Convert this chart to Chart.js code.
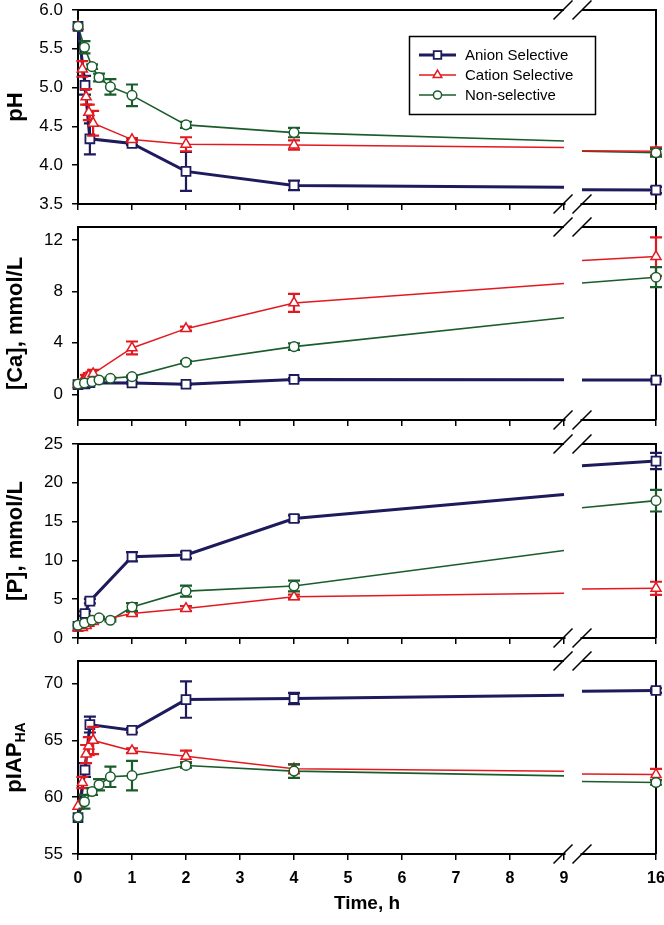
<!DOCTYPE html>
<html><head><meta charset="utf-8">
<script src="https://cdn.jsdelivr.net/npm/chart.js@4.4.1/dist/chart.umd.min.js"></script>
<style>
html,body{margin:0;padding:0;background:#fff;}
body{width:664px;height:925px;position:relative;overflow:hidden;}
canvas{position:absolute;left:0;}
</style></head><body>
<canvas id="c1"></canvas><canvas id="c2"></canvas><canvas id="c3"></canvas><canvas id="c4"></canvas>
<script>
// ---------------- DATA ----------------
const seriesNames = ['Anion Selective', 'Cation Selective', 'Non-selective'];
const timeAnion  = [0, 0.13, 0.22, 1, 2, 4, 16];
const timeCation = [0, 0.08, 0.15, 0.2, 0.28, 1, 2, 4, 16];
const timeNon    = [0, 0.12, 0.26, 0.39, 0.6, 1, 2, 4, 16];

const pHAnion     = [5.79, 5.03, 4.34, 4.28, 3.92, 3.74, 3.68];
const pHAnionErr  = [0, 0.12, 0.2, 0.02, 0.25, 0.06, 0.04];
const pHCation    = [5.79, 5.24, 4.88, 4.68, 4.54, 4.33, 4.27, 4.26, 4.18];
const pHCationErr = [0, 0.1, 0.1, 0.1, 0.16, 0.02, 0.09, 0.06, 0.05];
const pHNon       = [5.79, 5.52, 5.27, 5.13, 5.01, 4.90, 4.52, 4.42, 4.16];
const pHNonErr    = [0, 0.08, 0.03, 0.05, 0.1, 0.14, 0.04, 0.06, 0.05];

const caAnion     = [0.75, 0.8, 0.9, 0.88, 0.78, 1.15, 1.1];
const caAnionErr  = [0, 0.05, 0.05, 0.05, 0.05, 0.1, 0.1];
const caCation    = [0.75, 1.0, 1.3, 1.45, 1.6, 3.6, 5.1, 7.1, 10.7];
const caCationErr = [0, 0.1, 0.2, 0.2, 0.3, 0.5, 0.15, 0.7, 1.5];
const caNon       = [0.8, 0.88, 0.98, 1.11, 1.24, 1.37, 2.49, 3.7, 9.1];
const caNonErr    = [0, 0.05, 0.05, 0.05, 0.05, 0.08, 0.1, 0.25, 0.78];

const pAnion      = [1.5, 3.15, 4.75, 10.47, 10.69, 15.4, 22.8];
const pAnionErr   = [0, 0.3, 0.3, 0.6, 0.4, 0.4, 1.05];
const pCation     = [1.3, 1.35, 1.6, 1.9, 2.1, 3.15, 3.8, 5.3, 6.4];
const pCationErr  = [0, 0.1, 0.1, 0.1, 0.1, 0.2, 0.3, 0.3, 0.85];
const pNon        = [1.64, 1.94, 2.29, 2.59, 2.29, 4.0, 6.04, 6.7, 17.7];
const pNonErr     = [0, 0.15, 0.15, 0.15, 0.15, 0.5, 0.7, 0.7, 1.4];

const iapAnion     = [58.2, 62.4, 66.4, 65.9, 68.6, 68.7, 69.4];
const iapAnionErr  = [0, 0.6, 0.7, 0.2, 1.6, 0.5, 0.2];
const iapCation    = [59.2, 61.3, 63.8, 64.5, 65.0, 64.1, 63.6, 62.5, 62.0];
const iapCationErr = [0, 0.5, 0.8, 0.8, 1.2, 0.2, 0.5, 0.4, 0.5];
const iapNon       = [58.25, 59.6, 60.5, 61.1, 61.8, 61.9, 62.8, 62.3, 61.3];
const iapNonErr    = [0, 0.6, 0.3, 0.5, 0.9, 1.3, 0.2, 0.6, 0.2];

const xTickTimes  = [0, 1, 2, 3, 4, 5, 6, 7, 8, 9, 16];
const xTickLabels = ['0', '1', '2', '3', '4', '5', '6', '7', '8', '9', '16'];
const pHTicks  = [3.5, 4.0, 4.5, 5.0, 5.5, 6.0];
const caTicks  = [0, 4, 8, 12];
const pTicks   = [0, 5, 10, 15, 20, 25];
const iapTicks = [55, 60, 65, 70];

// ---------------- BROKEN AXIS MAPPING ----------------
const BREAK_START = 9, BREAK_END = 15;
function disp(t) { return t <= BREAK_START ? t : BREAK_START + 0.333 + (t - BREAK_END) * 1.3704; }
const X_MAX = disp(16);

function lineData(times, vals) {
  const out = [];
  for (let i = 0; i < times.length; i++) {
    if (i > 0 && times[i - 1] < BREAK_START && times[i] > BREAK_END) {
      const a = times[i - 1], b = times[i], va = vals[i - 1], vb = vals[i];
      const f = t => va + (vb - va) * (t - a) / (b - a);
      out.push({x: disp(BREAK_START), y: f(BREAK_START)});
      out.push({x: disp(BREAK_START) + 0.1, y: null});
      out.push({x: disp(BREAK_END), y: f(BREAK_END)});
    }
    out.push({x: disp(times[i]), y: vals[i]});
  }
  return out;
}
function pointData(times, vals) { return times.map((t, i) => ({x: disp(t), y: vals[i]})); }

// ---------------- STYLES ----------------
const STY = [
  {color: '#1d1b5b', style: 'rect', radius: 6.3, lw: 3, bw: 1.8, ew: 2.2},
  {color: '#e3191f', style: 'triangle', radius: 5.8, lw: 1.5, bw: 1.5, ew: 2.2},
  {color: '#1b5c2c', style: 'circle', radius: 4.8, lw: 1.6, bw: 1.5, ew: 2.2}
];
const TIMES = [timeAnion, timeCation, timeNon];
const FONT = "'Liberation Sans', Arial, sans-serif";

const PANELS = [
  {id: 'c1', top: 0, padTop: 10, area: 194, hx: 12, min: 3.5, max: 6.0, ticks: pHTicks, fmt: v => v.toFixed(1), title: 'pH',
   vals: [pHAnion, pHCation, pHNon], errs: [pHAnionErr, pHCationErr, pHNonErr], legend: true},
  {id: 'c2', top: 217, padTop: 10, area: 193, hx: 12, min: -2, max: 13, ticks: caTicks, fmt: v => String(v), title: '[Ca], mmol/L',
   vals: [caAnion, caCation, caNon], errs: [caAnionErr, caCationErr, caNonErr]},
  {id: 'c3', top: 434, padTop: 10, area: 194, hx: 12, min: 0, max: 25, ticks: pTicks, fmt: v => String(v), title: '[P], mmol/L',
   vals: [pAnion, pCation, pNon], errs: [pAnionErr, pCationErr, pNonErr]},
  {id: 'c4', top: 651, padTop: 10, area: 193, hx: 71, min: 55, max: 72, ticks: iapTicks, fmt: v => String(v), title: null,
   customTitle: ['pIAP', 'HA'], vals: [iapAnion, iapCation, iapNon], errs: [iapAnionErr, iapCationErr, iapNonErr], last: true}
];

// ---------------- PLUGINS ----------------
const errorBars = {
  id: 'errorBars',
  beforeDatasetDraw(chart, args) {
    const ds = chart.data.datasets[args.index];
    if (!ds.errors) return;
    const ctx = chart.ctx, xs = chart.scales.x, ys = chart.scales.y;
    ctx.save();
    ctx.strokeStyle = ds.pointBorderColor;
    ctx.lineWidth = ds.errWidth;
    ds.data.forEach((p, i) => {
      const e = ds.errors[i];
      if (!e) return;
      const x = xs.getPixelForValue(p.x);
      const y1 = ys.getPixelForValue(p.y + e), y2 = ys.getPixelForValue(p.y - e);
      ctx.beginPath();
      ctx.moveTo(x, y1); ctx.lineTo(x, y2);
      ctx.moveTo(x - 6, y1); ctx.lineTo(x + 6, y1);
      ctx.moveTo(x - 6, y2); ctx.lineTo(x + 6, y2);
      ctx.stroke();
    });
    ctx.restore();
  }
};

const frame = {
  id: 'frame',
  beforeDatasetsDraw(chart) {
    const {ctx, chartArea: a} = chart;
    const xs = chart.scales.x;
    const g1 = xs.getPixelForValue(disp(BREAK_START)), g2 = xs.getPixelForValue(disp(BREAK_END));
    ctx.save();
    ctx.fillStyle = '#fff';
    ctx.fillRect(g1 + 1.5, a.bottom - 3, g2 - g1 - 3, 6);
    ctx.strokeStyle = '#000';
    ctx.lineWidth = 2;
    ctx.beginPath();
    ctx.moveTo(a.left, a.top); ctx.lineTo(g1, a.top);
    ctx.moveTo(g2, a.top); ctx.lineTo(a.right, a.top);
    ctx.moveTo(a.right, a.top - 1); ctx.lineTo(a.right, a.bottom);
    ctx.stroke();
    ctx.lineWidth = 1.5;
    ctx.beginPath();
    [a.top, a.bottom].forEach(y => {
      [g1 - 1, g2].forEach(cx => {
        ctx.moveTo(cx - 9.5, y + 9.5); ctx.lineTo(cx + 9.5, y - 9.5);
      });
    });
    ctx.stroke();
    ctx.restore();
  },
  afterDraw(chart) {
    const opts = chart.options.plugins.frame || {};
    const ctx = chart.ctx, a = chart.chartArea;
    if (opts.customTitle) {
      ctx.save();
      const cy = (a.top + a.bottom) / 2;
      ctx.translate(0, cy);
      ctx.rotate(-Math.PI / 2);
      ctx.fillStyle = '#000';
      ctx.textBaseline = 'alphabetic';
      ctx.font = 'bold 22px ' + FONT;
      const wm = ctx.measureText(opts.customTitle[0]).width;
      ctx.font = 'bold 14px ' + FONT;
      const ws = ctx.measureText(opts.customTitle[1]).width;
      const x0 = -(wm + ws) / 2;
      ctx.font = 'bold 22px ' + FONT;
      ctx.fillText(opts.customTitle[0], x0, 21);
      ctx.font = 'bold 14px ' + FONT;
      ctx.fillText(opts.customTitle[1], x0 + wm, 25);
      ctx.restore();
    }
    if (opts.legend) {
      ctx.save();
      ctx.strokeStyle = '#000';
      ctx.lineWidth = 1.5;
      ctx.strokeRect(409.5, 36.5, 186, 78);
      seriesNames.forEach((name, i) => {
        const s = STY[i], y = 55 + i * 20;
        ctx.strokeStyle = s.color;
        ctx.lineWidth = s.lw;
        ctx.beginPath(); ctx.moveTo(419, y); ctx.lineTo(456, y); ctx.stroke();
        ctx.fillStyle = '#fff';
        ctx.lineWidth = s.bw;
        Chart.helpers.drawPoint(ctx, {pointStyle: s.style, radius: s.radius * 0.85, borderWidth: s.bw, rotation: 0}, 437.5, y);
        ctx.fillStyle = '#000';
        ctx.font = '15px ' + FONT;
        ctx.textBaseline = 'middle';
        ctx.textAlign = 'left';
        ctx.fillText(name, 465, y + 1);
      });
      ctx.restore();
    }
  }
};

// ---------------- BUILD CHARTS ----------------
PANELS.forEach(P => {
  const cv = document.getElementById(P.id);
  const H = P.padTop + P.area + P.hx;
  cv.width = 664; cv.height = H;
  cv.style.top = P.top + 'px';
  cv.style.width = '664px'; cv.style.height = H + 'px';

  const datasets = [];
  STY.forEach((s, i) => {
    datasets.push({
      data: lineData(TIMES[i], P.vals[i]),
      borderColor: s.color, borderWidth: s.lw, pointRadius: 0, showLine: true,
      spanGaps: false, tension: 0, clip: false, order: 10 + i
    });
  });
  STY.forEach((s, i) => {
    datasets.push({
      data: pointData(TIMES[i], P.vals[i]),
      errors: P.errs[i], errWidth: s.ew,
      showLine: false, pointStyle: s.style, pointRadius: s.radius,
      pointBackgroundColor: '#fff', pointBorderColor: s.color, pointBorderWidth: s.bw,
      borderColor: s.color, clip: false, order: 3 - i
    });
  });

  new Chart(cv, {
    type: 'line',
    data: {datasets},
    options: {
      responsive: false, animation: false, devicePixelRatio: 1, events: [],
      layout: {autoPadding: false, padding: {top: P.padTop, right: 8, left: 0, bottom: 0}},
      plugins: {legend: {display: false}, tooltip: {enabled: false},
        frame: {legend: !!P.legend, customTitle: P.customTitle || null}},
      scales: {
        x: {
          type: 'linear', min: 0, max: X_MAX,
          afterBuildTicks: sc => { sc.ticks = xTickTimes.map(t => ({value: disp(t)})); },
          afterFit: sc => { sc.height = P.hx; sc.paddingLeft = 0; sc.paddingRight = 0; },
          ticks: {display: !!P.last, autoSkip: false, maxRotation: 0, color: '#000', padding: 9,
            font: {family: FONT, size: 16, weight: 'bold'},
            callback: (v, i) => xTickLabels[i]},
          grid: {drawOnChartArea: false, drawTicks: true, tickLength: 6, color: '#000', lineWidth: 1.5},
          border: {display: true, color: '#000', width: 2},
          title: {display: !!P.last, text: 'Time, h', color: '#000',
            font: {family: FONT, size: 19, weight: 'bold'}, padding: {top: 0, bottom: 10}}
        },
        y: {
          type: 'linear', min: P.min, max: P.max,
          afterBuildTicks: sc => { sc.ticks = P.ticks.map(v => ({value: v})); },
          afterFit: sc => { sc.width = 78; sc.paddingTop = 0; sc.paddingBottom = 0; },
          ticks: {color: '#000', padding: 9, font: {family: FONT, size: 17}, callback: v => P.fmt(v)},
          grid: {drawOnChartArea: false, drawTicks: true, tickLength: 6, color: '#000', lineWidth: 1.5},
          border: {display: true, color: '#000', width: 2},
          title: {display: !!P.title, text: P.title || '', color: '#000',
            font: {family: FONT, size: 22, weight: 'bold'}, padding: {top: 3, bottom: 0}}
        }
      }
    },
    plugins: [errorBars, frame]
  });
});
</script>
</body></html>
